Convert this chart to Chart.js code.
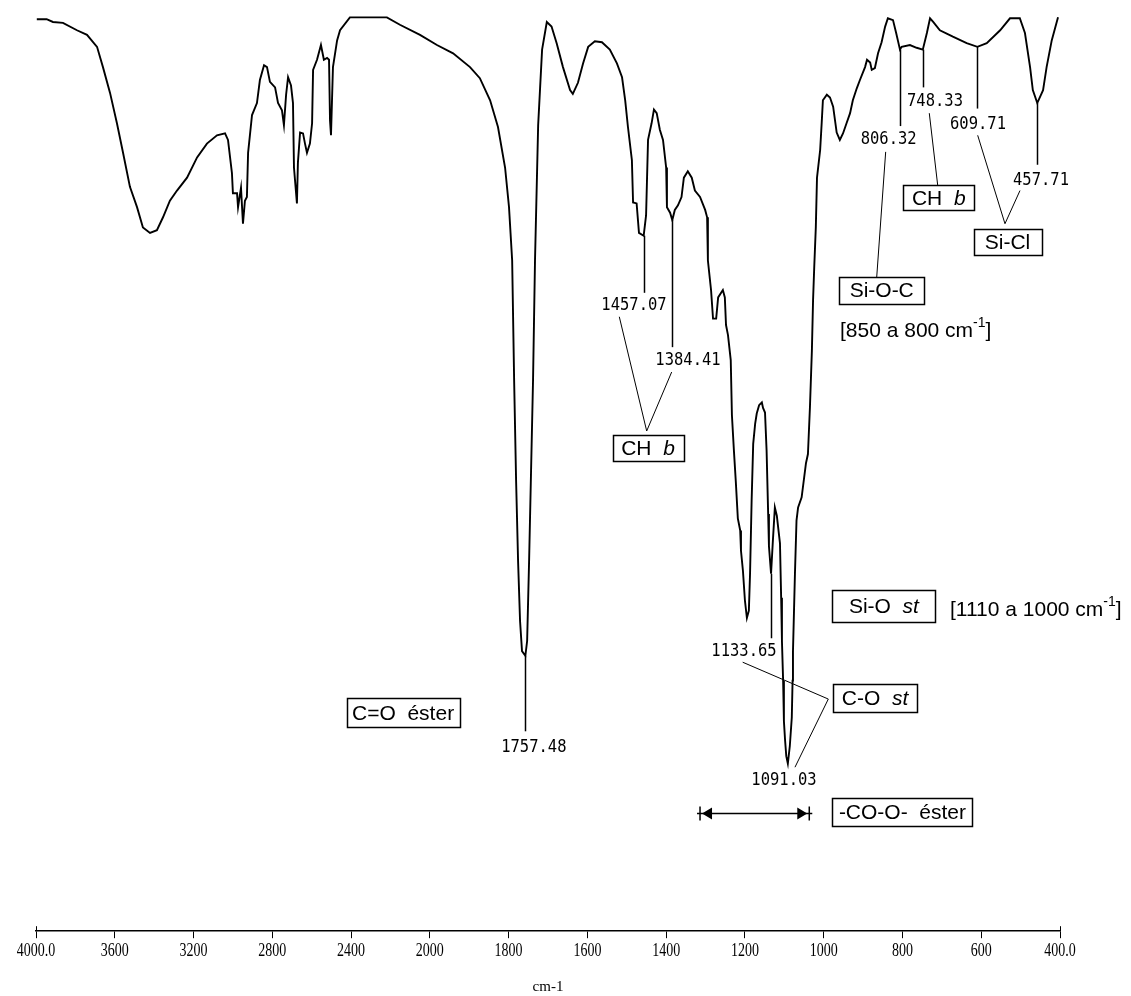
<!DOCTYPE html>
<html>
<head>
<meta charset="utf-8">
<script src="https://cdn.jsdelivr.net/npm/chart.js@4.4.1/dist/chart.umd.min.js"></script>
<style>
  html, body { margin: 0; padding: 0; background: #fff; }
  #wrap { width: 1131px; height: 996px; position: relative; }
</style>
</head>
<body>
<div id="wrap"><canvas id="ir" width="1131" height="996"></canvas></div>
<script>
// Wavenumber axis: 4000–2000 cm-1 at one scale, 2000–400 cm-1 expanded two-fold
const AXIS_TICKS = [4000, 3600, 3200, 2800, 2400, 2000, 1800, 1600, 1400, 1200, 1000, 800, 600, 400];
const SCALE_BREAK = 2000;
const EXPANSION = 2;

// IR spectrum (cm-1, %T)
const wavenumbers = [
  3996, 3946, 3914, 3863, 3792, 3741, 3690, 3660, 3624, 3589, 3558, 3523, 3487, 3457, 3421, 3386,
  3355, 3320, 3284, 3233, 3182, 3132, 3081, 3040, 3025, 3005, 3000, 2979, 2974, 2959, 2949, 2939,
  2929, 2923, 2903, 2878, 2863, 2842, 2827, 2812, 2786, 2771, 2751, 2741, 2730, 2720, 2705, 2695,
  2690, 2675, 2670, 2659, 2644, 2634, 2624, 2609, 2598, 2593, 2573, 2553, 2538, 2522, 2512, 2507,
  2502, 2492, 2471, 2456, 2406, 2355, 2268, 2218, 2152, 2050, 1982, 1941, 1898, 1873, 1847, 1827,
  1809, 1799, 1791, 1786, 1781, 1776, 1771, 1766, 1757.48, 1753, 1748, 1743, 1738, 1733, 1725, 1720,
  1715, 1703, 1691, 1678, 1662, 1644, 1637, 1624, 1611, 1598, 1581, 1563, 1543, 1525, 1512, 1504,
  1497, 1487, 1484, 1475, 1469, 1457.07, 1451, 1446, 1437, 1431, 1424, 1416, 1408, 1400, 1398, 1390,
  1384.41, 1378, 1370, 1361, 1355, 1345, 1335, 1327, 1314, 1301, 1296, 1294, 1286, 1281, 1273, 1268,
  1256, 1251, 1248, 1243, 1236, 1233, 1228, 1223, 1218, 1212, 1210, 1205, 1200, 1195, 1190, 1187,
  1183, 1179, 1174, 1170, 1164, 1157, 1154, 1149, 1145, 1141, 1139, 1133.65, 1129, 1124, 1119, 1111,
  1108, 1106, 1103, 1101, 1098, 1095, 1091.03, 1086, 1081, 1079, 1078, 1073, 1069, 1065, 1056, 1045,
  1040, 1035, 1030, 1027, 1024, 1020, 1017, 1009, 1005, 1002, 992, 984, 976, 967, 959, 951,
  942, 933, 926, 916, 908, 895, 890, 882, 878, 870, 862, 853, 844, 837, 824, 816,
  806.32, 802, 781, 764, 748.33, 738, 730, 722, 705, 672, 637, 609.71, 586, 552, 527, 502,
  489, 476, 469, 457.71, 443, 434, 421, 405
];
const transmittance = [
  99.0, 99.0, 98.7, 98.6, 97.8, 97.3, 96.0, 93.8, 91.0, 87.7, 84.5, 80.8, 78.6, 76.4, 75.8, 76.1,
  77.5, 79.3, 80.4, 81.8, 84.0, 85.5, 86.4, 86.6, 85.9, 82.3, 80.1, 80.1, 78.6, 80.7, 76.8, 79.3,
  79.7, 84.5, 88.6, 89.9, 92.4, 94.0, 93.8, 92.2, 91.6, 89.9, 89.1, 87.5, 90.8, 92.7, 91.8, 89.9,
  82.9, 79.0, 83.4, 86.7, 86.6, 85.5, 84.5, 85.5, 87.7, 93.5, 94.6, 96.2, 94.6, 94.8, 94.6, 88.0,
  86.4, 93.8, 96.7, 97.8, 99.2, 99.2, 99.2, 99.2, 98.4, 97.3, 96.2, 95.3, 93.8, 92.6, 90.2, 87.3,
  82.9, 78.6, 72.8, 59.8, 48.9, 40.2, 33.7, 30.4, 29.9, 31.5, 40.2, 50.0, 59.8, 72.8, 87.5, 91.6,
  95.7, 98.7, 98.2, 96.4, 93.8, 91.3, 90.9, 92.1, 94.2, 96.0, 96.6, 96.5, 95.7, 94.2, 92.7, 90.2,
  87.3, 83.7, 79.1, 79.0, 75.8, 75.5, 77.7, 85.9, 87.7, 89.2, 88.8, 87.0, 85.9, 82.9, 78.6, 78.0,
  77.2, 78.3, 78.8, 79.7, 81.8, 82.5, 81.8, 80.4, 79.7, 78.3, 77.5, 72.8, 69.6, 66.5, 66.5, 68.8,
  69.6, 68.8, 65.8, 64.7, 62.0, 56.0, 52.2, 48.7, 44.8, 43.5, 41.3, 39.1, 35.9, 34.0, 34.8, 38.8,
  46.7, 52.9, 55.1, 56.2, 57.1, 57.4, 56.8, 56.3, 52.2, 45.3, 41.8, 38.8, 42.4, 46.0, 45.1, 42.1,
  36.2, 31.5, 27.2, 22.8, 20.7, 19.0, 18.2, 20.1, 23.2, 27.2, 30.4, 38.8, 44.6, 46.0, 47.1, 50.8,
  51.8, 56.8, 63.0, 68.5, 72.1, 76.4, 81.8, 84.8, 87.8, 90.2, 90.8, 90.5, 89.5, 86.7, 85.9, 86.6,
  87.7, 88.8, 90.2, 91.5, 92.4, 93.8, 94.6, 94.3, 93.5, 93.7, 95.3, 96.5, 98.2, 99.1, 98.9, 97.5,
  95.7, 96.0, 96.2, 95.9, 95.7, 97.5, 99.1, 98.7, 97.8, 97.1, 96.4, 96.0, 96.4, 97.8, 99.1, 99.1,
  97.5, 93.8, 91.3, 89.9, 91.3, 93.8, 96.7, 99.2
];

// Labelled band positions (cm-1)
const peakPositions = [1757.48, 1457.07, 1384.41, 1133.65, 1091.03, 806.32, 748.33, 609.71, 457.71];

// Callout layout for each labelled band: end of the stem (%T) and label centre (cm-1, %T)
const peakCallouts = [
  { stemTo: 21.7, at: [1736, 20.0] },
  { stemTo: 69.3, at: [1481.7, 67.9] },
  { stemTo: 63.4, at: [1344.5, 62.0] },
  { stemTo: 31.8, at: [1202.4, 30.4] },
  { stemTo: null, at: [1100.8, 16.4] },
  { stemTo: 87.4, at: [835.0, 86.0] },
  { stemTo: 91.6, at: [717.4, 90.1] },
  { stemTo: 89.3, at: [608.3, 87.6] },
  { stemTo: 83.2, at: [448.3, 81.5] }
];

// Boxed assignments
const boxLabels = [
  { at: [2136, 23.7], w: 113, h: 29, parts: [['C=O  éster']] },
  { at: [1446, 52.4], w: 71, h: 26, parts: [['CH  '], ['b', 'italic']] },
  { at: [847, 35.3], w: 103, h: 32, parts: [['Si-O  '], ['st', 'italic']] },
  { at: [869.8, 25.3], w: 84, h: 28, parts: [['C-O  '], ['st', 'italic']] },
  { at: [800, 12.9], w: 140, h: 28, parts: [['-CO-O-  éster']] },
  { at: [852.7, 69.6], w: 85, h: 27, parts: [['Si-O-C']] },
  { at: [707.8, 79.6], w: 71, h: 25, parts: [['CH  '], ['b', 'italic']] },
  { at: [533.3, 74.8], w: 68, h: 26, parts: [['Si-Cl']] }
];

// Range notes next to the boxes
const rangeNotes = [
  { at: [679.3, 35.0], parts: [['[1110 a 1000 cm'], ['-1', 'sup'], [']']] },
  { at: [958.6, 65.2], parts: [['[850 a 800 cm'], ['-1', 'sup'], [']']] }
];

// Lines joining band labels to their assignment boxes
const connectors = [
  [[1519, 66.7], [1449.4, 54.3], [1386, 60.7]],
  [[842.6, 84.6], [865.4, 71.0]],
  [[731.9, 88.8], [710.6, 81.0]],
  [[609.0, 86.4], [539.7, 76.8], [501.6, 80.4]],
  [[1205.7, 29.2], [988.3, 25.2], [1072.9, 17.8]]
];

// Ester C-O-C region marker (cm-1) and its height (%T)
const esterSpan = { from: 1314, to: 1036.6, t: 12.86 };

const TICK_STRETCH = 1.4;

class WavenumberScale extends Chart.LinearScale {
  static id = 'wavenumber';

  buildTicks() {
    this.start = this.min;
    this.end = this.max;
    return AXIS_TICKS.filter(v => v >= this.min && v <= this.max).map(value => ({ value }));
  }

  _span() {
    return (this.max - SCALE_BREAK) + EXPANSION * (SCALE_BREAK - this.min);
  }

  getPixelForValue(value) {
    if (value === null || value === undefined || isNaN(value)) return NaN;
    const upper = this.max - SCALE_BREAK;
    const u = value >= SCALE_BREAK ? (this.max - value) : upper + EXPANSION * (SCALE_BREAK - value);
    return this.getPixelForDecimal(u / this._span());
  }

  getValueForPixel(pixel) {
    const u = this.getDecimalForPixel(pixel) * this._span();
    const upper = this.max - SCALE_BREAK;
    return u <= upper ? this.max - u : SCALE_BREAK - (u - upper) / EXPANSION;
  }

  drawLabels() {
    const opts = this.options.ticks;
    if (!opts.display) return;
    const ctx = this.ctx;
    const font = Chart.helpers.toFont(opts.font);
    const baseline = this.top + this.options.grid.tickLength + opts.padding + 14;
    ctx.save();
    ctx.fillStyle = opts.color;
    ctx.font = font.string;
    ctx.textAlign = 'center';
    ctx.textBaseline = 'alphabetic';
    this.ticks.forEach((tick, i) => {
      ctx.save();
      ctx.translate(this.getPixelForTick(i), baseline);
      ctx.scale(1, TICK_STRETCH);
      ctx.fillText(tick.label, 0, 0);
      ctx.restore();
    });
    ctx.restore();
  }
}
Chart.register(WavenumberScale);

const LABEL_FONT = '21px "Liberation Sans", Arial, sans-serif';
const LABEL_FONT_ITALIC = 'italic 21px "Liberation Sans", Arial, sans-serif';
const SUP_FONT = '14px "Liberation Sans", Arial, sans-serif';
const NUMBER_FONT = '15.5px "DejaVu Sans Mono", monospace';

function partFont(style) {
  if (style === 'italic') return LABEL_FONT_ITALIC;
  if (style === 'sup') return SUP_FONT;
  return LABEL_FONT;
}

function drawParts(ctx, parts, x, y, align) {
  const widths = parts.map(([text, style]) => { ctx.font = partFont(style); return ctx.measureText(text).width; });
  const total = widths.reduce((a, b) => a + b, 0);
  let cx = align === 'center' ? x - total / 2 : x;
  ctx.textAlign = 'left';
  ctx.textBaseline = 'middle';
  parts.forEach(([text, style], i) => {
    ctx.font = partFont(style);
    ctx.fillText(text, cx, style === 'sup' ? y - 7 : y + 1);
    cx += widths[i];
  });
}

const bandAnnotations = {
  id: 'bandAnnotations',
  afterDatasetsDraw(chart) {
    const { ctx } = chart;
    const xs = chart.scales.x, ys = chart.scales.y;
    const X = v => xs.getPixelForValue(v);
    const Y = v => ys.getPixelForValue(v);
    const tAt = nu => transmittance[wavenumbers.indexOf(nu)];

    ctx.save();
    ctx.strokeStyle = '#000';
    ctx.fillStyle = '#000';
    ctx.lineCap = 'butt';

    // stems and wavenumber labels
    peakPositions.forEach((nu, i) => {
      const c = peakCallouts[i];
      const px = Math.round(X(nu)) + 0.5;
      if (c.stemTo !== null) {
        ctx.lineWidth = 1.5;
        ctx.beginPath();
        ctx.moveTo(px, Y(tAt(nu)));
        ctx.lineTo(px, Y(c.stemTo));
        ctx.stroke();
      }
      ctx.save();
      ctx.font = NUMBER_FONT;
      ctx.textAlign = 'center';
      ctx.textBaseline = 'middle';
      ctx.translate(X(c.at[0]), Y(c.at[1]));
      ctx.scale(1, 1.15);
      ctx.fillText(nu.toFixed(2), 0, 0);
      ctx.restore();
    });

    // connectors
    ctx.lineWidth = 1;
    connectors.forEach(path => {
      ctx.beginPath();
      path.forEach(([nu, t], k) => (k ? ctx.lineTo(X(nu), Y(t)) : ctx.moveTo(X(nu), Y(t))));
      ctx.stroke();
    });

    // boxed assignments
    boxLabels.forEach(b => {
      const cx = X(b.at[0]), cy = Y(b.at[1]);
      ctx.lineWidth = 1.5;
      ctx.strokeRect(Math.round(cx - b.w / 2) + 0.5, Math.round(cy - b.h / 2) + 0.5, b.w, b.h);
      drawParts(ctx, b.parts, cx, cy, 'center');
    });

    // range notes
    rangeNotes.forEach(n => drawParts(ctx, n.parts, X(n.at[0]), Y(n.at[1]), 'left'));

    // ester region double arrow
    const x1 = X(esterSpan.from), x2 = X(esterSpan.to), ya = Math.round(Y(esterSpan.t)) + 0.5;
    ctx.lineWidth = 1.5;
    ctx.beginPath();
    ctx.moveTo(x1 - 3, ya); ctx.lineTo(x2 + 3, ya);
    ctx.moveTo(x1, ya - 7); ctx.lineTo(x1, ya + 7);
    ctx.moveTo(x2, ya - 7); ctx.lineTo(x2, ya + 7);
    ctx.stroke();
    ctx.beginPath();
    ctx.moveTo(x1 + 2, ya); ctx.lineTo(x1 + 12, ya - 6); ctx.lineTo(x1 + 12, ya + 6); ctx.closePath();
    ctx.moveTo(x2 - 2, ya); ctx.lineTo(x2 - 12, ya - 6); ctx.lineTo(x2 - 12, ya + 6); ctx.closePath();
    ctx.fill();

    // raised end ticks of the axis
    ctx.lineWidth = 1;
    [xs.max, xs.min].forEach(v => {
      const px = Math.round(X(v)) + 0.5;
      ctx.beginPath();
      ctx.moveTo(px, xs.top - 5);
      ctx.lineTo(px, xs.top);
      ctx.stroke();
    });
    ctx.restore();
  }
};

new Chart(document.getElementById('ir'), {
  type: 'line',
  data: {
    datasets: [{
      data: wavenumbers.map((nu, i) => ({ x: nu, y: transmittance[i] })),
      borderColor: '#000',
      borderWidth: 1.9,
      pointRadius: 0,
      tension: 0,
      fill: false
    }]
  },
  options: {
    responsive: false,
    animation: false,
    devicePixelRatio: 1,
    layout: { padding: { left: 36, right: 71, top: 10, bottom: 0 } },
    plugins: { legend: { display: false }, tooltip: { enabled: false } },
    scales: {
      x: {
        type: 'wavenumber',
        min: 400,
        max: 4000,
        position: 'bottom',
        grid: { display: true, drawOnChartArea: false, drawTicks: true, tickLength: 7, color: '#000', lineWidth: 1 },
        border: { display: true, color: '#000', width: 1.5 },
        ticks: {
          autoSkip: false,
          maxRotation: 0,
          padding: 4,
          color: '#000',
          font: { family: '"Liberation Serif", serif', size: 14 },
          callback: v => (v === 4000 || v === 400 ? v.toFixed(1) : String(v))
        },
        title: {
          display: true,
          text: 'cm-1',
          color: '#000',
          font: { family: '"Liberation Serif", serif', size: 15 },
          padding: { top: 15, bottom: 0 }
        }
      },
      y: { display: false, min: 0, max: 100 }
    }
  },
  plugins: [bandAnnotations]
});
</script>
</body>
</html>
